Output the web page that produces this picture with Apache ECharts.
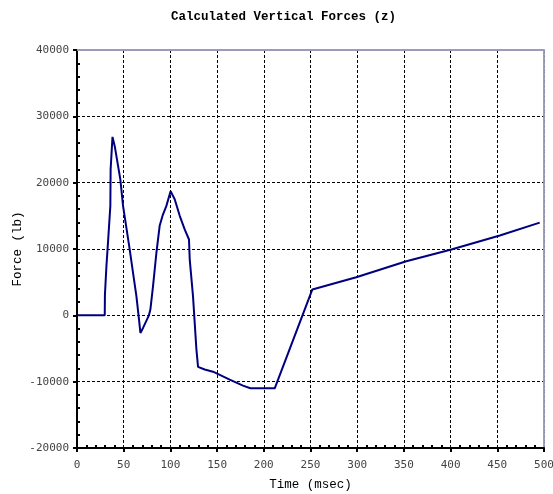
<!DOCTYPE html>
<html>
<head>
<meta charset="utf-8">
<script src="https://cdn.jsdelivr.net/npm/echarts@6/dist/echarts.min.js"></script>
<style>
  html, body { margin: 0; padding: 0; background: #fff; }
  #chart { width: 553px; height: 494px; }
</style>
</head>
<body>
<div id="chart"></div>
<script>
// Time samples (msec) and the vertical force at each (lb)
const timeMs = [0, 29.7, 29.9, 31.5, 33.2, 35.7, 36.0, 38.0, 40.4, 46.4, 49.3, 52.0, 56.4, 60.0, 63.6, 66.4, 67.9, 70.7, 77.0, 78.6, 81.4, 85.0, 88.5, 92.0, 95.7, 100.2, 104.6, 110.0, 115.3, 119.9, 120.7, 124.2, 127.8, 129.6, 131.4, 136.7, 145.6, 163.5, 177.7, 185.6, 211.7, 252.0, 299.0, 352.6, 400.8, 452.7, 495.4];
const forceLb = [0, 0, 3100, 7400, 11000, 16500, 22000, 26900, 25500, 20500, 16500, 14000, 9950, 6400, 2900, -650, -2650, -1900, 0, 900, 4400, 9400, 13500, 15200, 16500, 18720, 17500, 15000, 12950, 11430, 8400, 2900, -5050, -7770, -8000, -8170, -8500, -9700, -10600, -11000, -11000, 3900, 5750, 8150, 9920, 12040, 13970];

// Axis ranges and tick spacing
const xRange = [0, 500], xStep = 50;
const yRange = [-20000, 40000], yStep = 10000;

const seriesData = timeMs.map((t, i) => [t, forceLb[i]]);

const plain = v => String(v);
const monoLabel = { fontFamily: 'DejaVu Sans Mono', fontSize: 11, color: '#444', formatter: plain };
const gridLine = { show: true, lineStyle: { color: '#000', width: 1, type: [3, 2] } };
const edgeLine = { show: true, lineStyle: { color: '#9a9ab6', width: 2, type: [1, 1] } };

const chart = echarts.init(document.getElementById('chart'), null, { renderer: 'canvas' });
chart.setOption({
  animation: false,
  backgroundColor: '#fff',
  title: {
    text: 'Calculated Vertical Forces (z)',
    left: 166, top: 5,
    textStyle: { fontFamily: 'Liberation Mono', fontWeight: 'bold', fontSize: 12.5, color: '#000' }
  },
  grid: { left: 77, right: 9, top: 50, bottom: 46, containLabel: false, outerBoundsMode: 'none' },
  xAxis: [
    {
      type: 'value', min: xRange[0], max: xRange[1], interval: xStep, position: 'bottom',
      name: 'Time (msec)', nameLocation: 'middle', nameGap: 30, nameMoveOverlap: false,
      nameTextStyle: { fontFamily: 'Liberation Mono', fontSize: 12.5, color: '#000' },
      axisLine: { show: true, onZero: false, lineStyle: { color: '#000', width: 2 } },
      axisTick: { show: true, inside: false, length: 4, lineStyle: { color: '#000', width: 2 } },
      minorTick: { show: false },
      axisLabel: Object.assign({ margin: 12 }, monoLabel),
      splitLine: gridLine
    },
    {
      // inward minor ticks along the bottom edge
      type: 'value', min: xRange[0], max: xRange[1], interval: xStep, position: 'bottom',
      axisLine: { show: false, onZero: false },
      axisTick: { show: false, inside: true },
      minorTick: { show: true, splitNumber: 5, length: 3, lineStyle: { color: '#000', width: 2 } },
      axisLabel: { show: false }, splitLine: { show: false }
    },
    {
      type: 'value', min: xRange[0], max: xRange[1], position: 'top',
      axisLine: Object.assign({ onZero: false }, edgeLine),
      axisTick: { show: false }, axisLabel: { show: false }, splitLine: { show: false }
    }
  ],
  yAxis: [
    {
      type: 'value', min: yRange[0], max: yRange[1], interval: yStep, position: 'left',
      name: 'Force (lb)', nameLocation: 'middle', nameGap: 53, nameMoveOverlap: false,
      nameTextStyle: { fontFamily: 'Liberation Mono', fontSize: 12.5, color: '#000' },
      axisLine: { show: true, onZero: false, lineStyle: { color: '#000', width: 2 } },
      axisTick: { show: true, inside: false, length: 4, lineStyle: { color: '#000', width: 2 } },
      minorTick: { show: false },
      axisLabel: Object.assign({ margin: 8 }, monoLabel),
      splitLine: gridLine
    },
    {
      type: 'value', min: yRange[0], max: yRange[1], interval: yStep, position: 'left',
      axisLine: { show: false, onZero: false },
      axisTick: { show: false, inside: true },
      minorTick: { show: true, splitNumber: 5, length: 3, lineStyle: { color: '#000', width: 2 } },
      axisLabel: { show: false }, splitLine: { show: false }
    },
    {
      type: 'value', min: yRange[0], max: yRange[1], position: 'right',
      axisLine: Object.assign({ onZero: false }, edgeLine),
      axisTick: { show: false }, axisLabel: { show: false }, splitLine: { show: false }
    }
  ],
  series: [{
    type: 'line',
    data: seriesData,
    xAxisIndex: 0, yAxisIndex: 0,
    showSymbol: false,
    lineStyle: { color: '#00007f', width: 2 },
    z: 5
  }]
});
</script>
</body>
</html>
